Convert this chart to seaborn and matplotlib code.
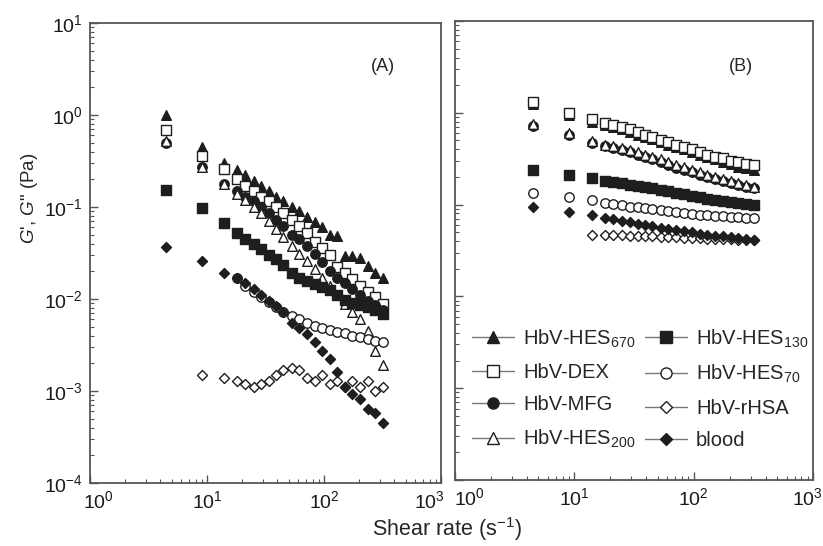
import numpy as np
import matplotlib
matplotlib.use("Agg")
import matplotlib.pyplot as plt
import matplotlib.transforms as mtransforms
from matplotlib.lines import Line2D
import seaborn as sns

# ---------------- data ----------------
shear = [4.5, 9, 14, 18, 21, 25, 29, 34, 39, 45, 53, 61, 71, 83, 96, 112, 130, 151, 175, 204, 237, 275, 320]

# Panel (A)
a_hes670 = [1.0, 0.45, 0.30, 0.25, 0.22, 0.19, 0.17, 0.15, 0.13, 0.115, 0.10, 0.09, 0.078, 0.068, 0.06, 0.05, 0.048, 0.029, 0.029, 0.028, 0.023, 0.019, 0.017]
a_dex = [0.68, 0.36, 0.26, 0.20, 0.17, 0.15, 0.13, 0.115, 0.10, 0.085, 0.072, 0.062, 0.052, 0.042, 0.036, 0.030, 0.022, 0.019, 0.0165, 0.014, 0.012, 0.0105, 0.0088]
a_mfg = [0.50, 0.27, 0.18, 0.15, 0.13, 0.115, 0.10, 0.085, 0.072, 0.062, 0.05, 0.045, 0.038, 0.031, 0.025, 0.020, 0.017, 0.015, 0.013, 0.011, 0.0095, 0.0085, 0.0075]
a_hes200 = [0.52, 0.27, 0.18, 0.14, 0.12, 0.10, 0.085, 0.07, 0.058, 0.047, 0.038, 0.031, 0.026, 0.021, 0.017, 0.014, 0.011, 0.0088, 0.0072, 0.006, 0.0045, 0.0027, 0.0019]
a_hes130 = [0.153, 0.098, 0.067, 0.052, 0.045, 0.040, 0.035, 0.030, 0.027, 0.0234, 0.019, 0.017, 0.0155, 0.0145, 0.0135, 0.0125, 0.011, 0.0098, 0.009, 0.0085, 0.0082, 0.0075, 0.0068]
a_hes70 = [None, None, None, 0.017, 0.014, 0.012, 0.0105, 0.0093, 0.0082, 0.0072, 0.0065, 0.006, 0.0055, 0.0051, 0.0049, 0.0046, 0.0044, 0.0043, 0.0040, 0.0039, 0.0037, 0.0035, 0.0034]
a_rhsa = [None, 0.0015, 0.0014, 0.0013, 0.0012, 0.0011, 0.0012, 0.0013, 0.0015, 0.0017, 0.0018, 0.0017, 0.0014, 0.0013, 0.0015, 0.0012, 0.0013, 0.0011, 0.0013, 0.0011, 0.0013, 0.0010, 0.0011]
a_blood = [0.037, 0.026, 0.019, 0.017, 0.015, 0.013, 0.011, 0.0095, 0.0083, 0.0072, 0.0055, 0.0048, 0.0042, 0.0034, 0.0027, 0.0022, 0.0016, 0.0011, 0.00093, 0.00081, 0.00063, 0.00058, 0.00045]

# Panel (B)
b_hes670 = [1.25, 0.95, 0.80, 0.74, 0.70, 0.66, 0.62, 0.58, 0.55, 0.52, 0.48, 0.45, 0.42, 0.40, 0.37, 0.35, 0.33, 0.31, 0.29, 0.28, 0.26, 0.25, 0.24]
b_dex = [1.3, 1.0, 0.85, 0.78, 0.74, 0.70, 0.66, 0.62, 0.58, 0.55, 0.51, 0.48, 0.45, 0.42, 0.40, 0.37, 0.35, 0.33, 0.32, 0.30, 0.29, 0.28, 0.27]
b_mfg = [0.72, 0.58, 0.47, 0.43, 0.41, 0.39, 0.37, 0.35, 0.33, 0.31, 0.29, 0.27, 0.25, 0.24, 0.225, 0.21, 0.20, 0.19, 0.18, 0.17, 0.165, 0.157, 0.15]
b_hes200 = [0.75, 0.60, 0.49, 0.45, 0.43, 0.41, 0.39, 0.37, 0.35, 0.33, 0.31, 0.29, 0.27, 0.255, 0.24, 0.225, 0.21, 0.20, 0.19, 0.18, 0.17, 0.162, 0.155]
b_hes130 = [0.238, 0.21, 0.195, 0.18, 0.175, 0.17, 0.165, 0.16, 0.155, 0.15, 0.145, 0.14, 0.135, 0.13, 0.125, 0.12, 0.116, 0.113, 0.11, 0.107, 0.104, 0.101, 0.099]
b_hes70 = [0.134, 0.121, 0.112, 0.104, 0.101, 0.098, 0.095, 0.093, 0.091, 0.089, 0.087, 0.085, 0.083, 0.081, 0.079, 0.078, 0.077, 0.076, 0.075, 0.074, 0.073, 0.072, 0.0714]
b_rhsa = [None, None, 0.047, 0.0468, 0.0466, 0.0464, 0.046, 0.0457, 0.0455, 0.045, 0.0447, 0.0445, 0.044, 0.0437, 0.0435, 0.043, 0.0427, 0.0425, 0.042, 0.0418, 0.0415, 0.0413, 0.041]
b_blood = [0.094, 0.083, 0.077, 0.071, 0.069, 0.066, 0.064, 0.062, 0.060, 0.058, 0.056, 0.054, 0.053, 0.051, 0.050, 0.048, 0.047, 0.046, 0.045, 0.044, 0.043, 0.042, 0.041]

labels = ["HbV-HES$_{\\mathrm{670}}$", "HbV-DEX", "HbV-MFG", "HbV-HES$_{\\mathrm{200}}$",
          "HbV-HES$_{\\mathrm{130}}$", "HbV-HES$_{\\mathrm{70}}$", "HbV-rHSA", "blood"]

# ---------------- style ----------------
sns.set_style("ticks")
plt.rcParams["font.family"] = ["Liberation Sans", "DejaVu Sans"]
plt.rcParams["mathtext.fontset"] = "custom"
plt.rcParams["mathtext.rm"] = "Liberation Sans"
plt.rcParams["mathtext.it"] = "Liberation Sans:italic"
plt.rcParams["mathtext.bf"] = "Liberation Sans:bold"

INK = "#1e1e1e"
styles = [("^", True, 48), ("s", False, 46), ("o", True, 46), ("^", False, 48),
          ("s", True, 46), ("o", False, 46), ("D", False, 26), ("D", True, 26)]

fig = plt.figure(figsize=(8.23, 5.46), dpi=100)
axA = fig.add_axes([90 / 823, 63 / 546, 351 / 823, 460 / 546])
axB = fig.add_axes([455 / 823, 66 / 546, 358 / 823, 459 / 546])

panelA = [a_hes670, a_dex, a_mfg, a_hes200, a_hes130, a_hes70, a_rhsa, a_blood]
panelB = [b_hes670, b_dex, b_mfg, b_hes200, b_hes130, b_hes70, b_rhsa, b_blood]

x = np.array(shear, dtype=float)
for ax, series in ((axA, panelA), (axB, panelB)):
    for vals, (mk, filled, s) in zip(series, styles):
        y = np.array(vals, dtype=float)
        ok = ~np.isnan(y)
        sns.scatterplot(x=x[ok], y=y[ok], ax=ax, marker=mk, s=s,
                        facecolor=INK if filled else "white",
                        edgecolor=INK, linewidth=1.0, legend=False, zorder=3)
    ax.set_xscale("log")
    ax.set_yscale("log")
    ax.set_xlim(1, 1000)
    ax.set_ylim(1e-4, 10)
    ax.set_xlabel("")
    ax.set_ylabel("")
    for sp in ax.spines.values():
        sp.set_color("#555555")
        sp.set_linewidth(1.3)
        sp.set_visible(True)
    ax.tick_params(which="both", direction="in", top=False, right=False,
                   colors="#555555", labelcolor="#1a1a1a", labelsize=14)
    ax.tick_params(which="major", length=6, width=1.0, pad=5)
    ax.tick_params(which="minor", length=3, width=0.8)
    ax.xaxis.set_major_locator(matplotlib.ticker.LogLocator(base=10, numticks=10))
    ax.xaxis.set_minor_locator(matplotlib.ticker.LogLocator(base=10, subs=np.arange(2, 10), numticks=20))
    ax.yaxis.set_major_locator(matplotlib.ticker.LogLocator(base=10, numticks=10))
    ax.yaxis.set_minor_locator(matplotlib.ticker.LogLocator(base=10, subs=np.arange(2, 10), numticks=20))

axB.tick_params(axis="y", labelleft=False)

# nudge the crowded x tick labels at the panel junction and the right edge
fig.canvas.draw()
def nudge(lbl, dx_px):
    lbl.set_transform(lbl.get_transform() + mtransforms.ScaledTranslation(dx_px / 100, 0, fig.dpi_scale_trans))

for lbl in axA.get_xticklabels():
    t = lbl.get_text()
    if "{0}" in t:
        nudge(lbl, 8)
    elif "{3}" in t:
        nudge(lbl, -12)
for lbl in axB.get_xticklabels():
    t = lbl.get_text()
    if "{0}" in t:
        nudge(lbl, 14)
    elif "{3}" in t:
        nudge(lbl, -6)

axA.text(0.835, 0.905, "(A)", transform=axA.transAxes, ha="center", va="center", fontsize=13)
axB.text(0.80, 0.90, "(B)", transform=axB.transAxes, ha="center", va="center", fontsize=13)

fig.text(30 / 823, 1 - 198 / 546, "$G$', $G$\" (Pa)", rotation=90, ha="center", va="center", fontsize=13.5)
fig.text(447 / 823, 1 - 529 / 546, "Shear rate (s$^{\\mathrm{-1}}$)", ha="center", va="center", fontsize=15.5)

handles = []
for lab, (mk, filled, s) in zip(labels, styles):
    handles.append(Line2D([0], [0], color="#777777", lw=1.0, marker=mk,
                          markersize=8 if mk != "D" else 6,
                          markerfacecolor=INK if filled else "white",
                          markeredgecolor=INK, markeredgewidth=1.0, label=lab))
axB.legend(handles=handles, loc="upper left",
           bbox_to_anchor=(0.025, 0.35), ncol=2, frameon=False, fontsize=14.5,
           handlelength=2.1, handletextpad=0.45, columnspacing=0.45,
           labelspacing=0.66, borderaxespad=0.0)

fig.savefig("out.png", dpi=100, facecolor="white")
